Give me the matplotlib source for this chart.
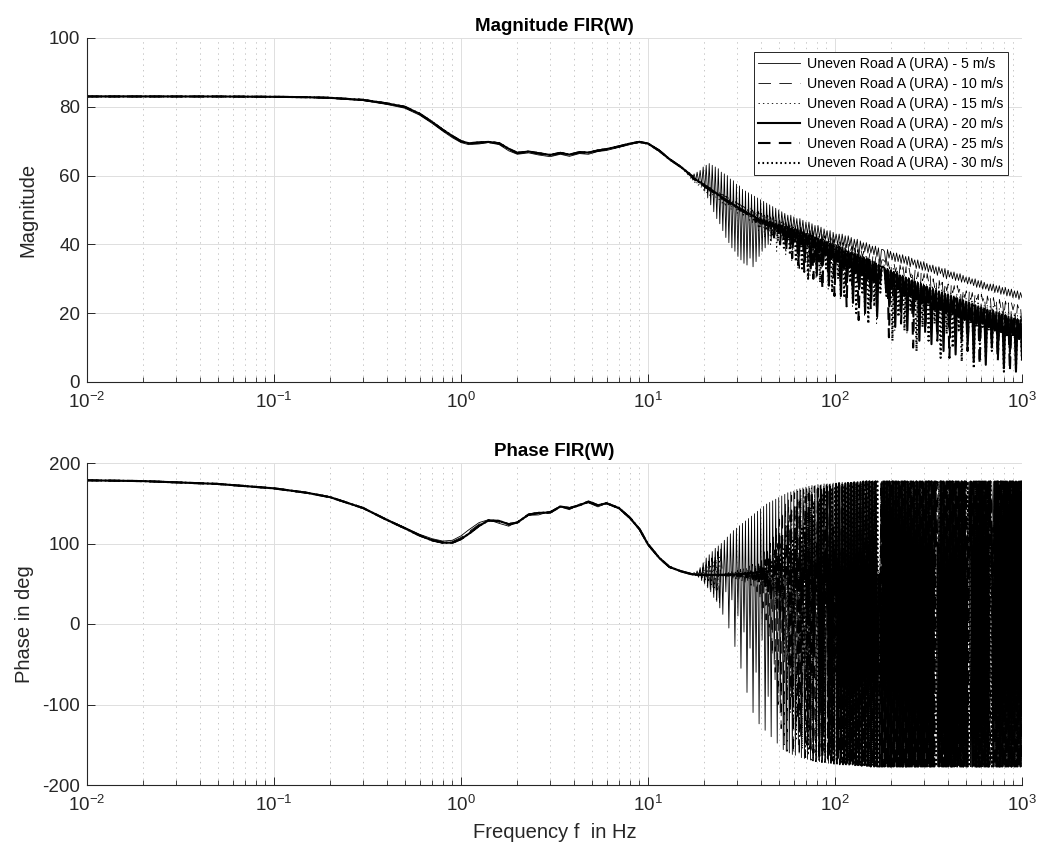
import numpy as np
import matplotlib
matplotlib.use("Agg")
import matplotlib.pyplot as plt
from matplotlib.ticker import LogLocator, NullFormatter, FixedLocator
from matplotlib.lines import Line2D

plt.rcParams['font.family'] = ['Liberation Sans', 'DejaVu Sans']
plt.rcParams['mathtext.fontset'] = 'custom'
plt.rcParams['mathtext.rm'] = 'Liberation Sans'
plt.rcParams['mathtext.it'] = 'Liberation Sans:italic'
plt.rcParams['mathtext.bf'] = 'Liberation Sans:bold'
plt.rcParams['lines.scale_dashes'] = False
plt.rcParams['axes.unicode_minus'] = False

# ---------------------------------------------------------------- data
speeds = [5, 10, 15, 20, 25, 30]
labels = [f"Uneven Road A (URA) - {v} m/s" for v in speeds]

# smooth low-frequency part, Hz
f_lo = [0.01, 0.02, 0.05, 0.1, 0.15, 0.2, 0.3, 0.4, 0.5, 0.6, 0.7, 0.8,
        0.9, 1.0, 1.1, 1.25, 1.4, 1.6, 1.8, 2.0, 2.3, 2.6, 3.0, 3.4,
        3.8, 4.3, 4.8, 5.4, 6.0, 7.0, 8.0, 9.0, 10, 11.5, 13, 15]

# first frequency of the log-spaced high-frequency block of each speed, Hz
hf_start = [17.0, 17.25, 16.85, 17.1, 16.95, 17.2]
hf_end = 1000.0

mag_lo_5 = [83.1, 83.1, 83.0, 82.9, 82.7, 82.5, 81.8, 80.7, 79.6, 77.6, 75.2, 72.9,
            71.0, 69.6, 69.0, 69.2, 69.6, 69.0, 67.2, 66.2, 66.6, 66.0, 65.5, 66.2,
            65.6, 66.4, 66.2, 67.0, 67.3, 68.2, 69.0, 69.7, 69.5, 67.5, 65.0, 62.5]
mag_lo_10 = [83.0, 83.0, 83.0, 82.9, 82.8, 82.6, 81.9, 80.9, 79.8, 77.8, 75.4, 73.1,
             71.3, 69.8, 69.2, 69.5, 69.8, 69.2, 67.5, 66.4, 66.8, 66.3, 65.8, 66.4,
             65.9, 66.6, 66.5, 67.1, 67.5, 68.3, 69.2, 69.8, 69.4, 67.4, 64.9, 62.6]
mag_lo_fast = [83.0, 83.0, 83.0, 82.9, 82.8, 82.6, 82.0, 81.0, 80.0, 78.0, 75.6, 73.3,
               71.5, 70.0, 69.4, 69.6, 69.8, 69.4, 67.8, 66.6, 67.0, 66.5, 66.0, 66.6,
               66.1, 66.8, 66.7, 67.3, 67.7, 68.5, 69.3, 69.8, 69.3, 67.2, 64.8, 62.5]

mag_hf_5 = [
    60, 59, 60.5, 58.5, 61, 58, 61.5, 57, 62.5, 55.5, 63, 53.5, 63.5, 51.5, 63, 49.5, 62.5, 47.5, 62, 46,
    61, 44, 60.5, 42, 60, 40.5, 59, 39, 58.5, 38, 57.5, 36.5, 57, 35.5, 56, 34.5, 55.5, 34, 55, 36,
    54.5, 33.5, 54, 35, 53.5, 36.5, 53, 38, 52.5, 39, 52, 40, 51.5, 41, 51, 42, 50.5, 42.5, 50, 43,
    49.5, 45, 49, 44.5, 48.5, 44, 48.5, 43, 48, 44, 47.5, 42.5, 47.5, 43, 47, 42, 46.5, 43, 46.5, 42,
    46, 42, 45.5, 41.5, 45.5, 42, 45, 40, 44.5, 41.5, 44, 40.5, 44, 37, 43.5, 40.5, 43, 40, 43, 39.5,
    43, 39.5, 42.5, 39, 42.5, 39.5, 42, 38, 41.5, 39, 41.5, 36, 41, 38.5, 40.5, 38, 40.5, 37.5, 40, 37.5,
    39.5, 37, 39.5, 36.5, 39, 34, 38.5, 38.5, 38, 34, 38.5, 36, 38, 35.5, 37.5, 35, 37.5, 35, 37, 34.5,
    37, 34.5, 36.5, 34, 36.5, 33.5, 36, 34, 35.5, 33, 35.5, 33, 35, 32.5, 35, 32.5, 34.5, 32, 34, 32,
    34, 31.5, 33.5, 31, 33.5, 31.5, 33, 30.5, 33, 30, 32.5, 30.5, 32, 30, 32, 29.5, 31.5, 29.5, 31.5, 29,
    31, 29, 30.5, 28.5, 30.5, 28.5, 30, 28, 30, 27.5, 29.5, 27.5, 29.5, 27, 29, 27, 28.5, 26.5, 28.5, 26.5,
    28.5, 26, 28, 26, 28, 25.5, 27.5, 25.5, 27.5, 25, 27, 25, 27, 24.5, 26.5, 24.5, 26.5, 24, 26, 24.5]
mag_hf_10 = [
    59.5, 59, 59, 58.5, 58.5, 58, 58, 57.5, 57.5, 57, 57, 56.5, 56.5, 56, 56, 55.5, 55.5, 55, 55, 54.5,
    54.5, 54, 54, 53.5, 53.5, 53, 53, 52.5, 52.5, 52, 52, 51.5, 51.5, 51, 51, 50.5, 50.5, 50, 50, 49.5,
    50, 48, 49.5, 47, 49.5, 46, 49, 47.5, 48.5, 44, 48.5, 46.5, 48, 45, 48, 43, 47.5, 46, 47, 44.5,
    47, 42, 46.5, 44, 46.5, 38, 46, 43.5, 45.5, 41, 45.5, 33, 45, 42, 44.5, 40, 44.5, 30, 44, 41.5,
    44, 39, 43.5, 41, 43, 35, 43, 40.5, 42.5, 37, 42, 28, 42, 39.5, 41.5, 36, 41, 39, 41, 26,
    40.5, 37, 40, 34, 40, 38, 39.5, 24, 39, 36, 38.5, 33, 38.5, 36.5, 38, 28, 37.5, 35, 37.5, 31,
    37, 34, 36.5, 18, 36, 33.5, 35.5, 35.5, 35, 30, 35, 33, 34.5, 25, 34.5, 32, 34, 29, 34, 31.5,
    33.5, 30, 33.5, 22, 33, 30.5, 32.5, 27, 32.5, 30, 32, 19, 32, 29.5, 31.5, 26, 31.5, 29, 31, 24,
    30, 27.5, 29.5, 19, 29.5, 27, 29, 24, 29, 26.5, 28.5, 16, 28.5, 26, 28, 23, 28, 26, 27.5, 21,
    27, 24.5, 26.5, 17, 26.5, 24, 26, 22, 26, 24, 25.5, 14, 25.5, 23.5, 25, 20, 25, 23, 24.5, 18,
    24.5, 22, 24, 14, 24, 21.5, 23.5, 19, 23.5, 21.5, 23, 11, 23, 21, 22.5, 17, 22.5, 21, 22, 16]
mag_hf_15 = [
    59.5, 58.5, 59, 58, 58.5, 57, 58, 56.5, 57.5, 55.5, 57, 55, 56.5, 54, 56, 54, 55.5, 53.5, 55, 53,
    55, 52, 54.5, 51, 54, 51.5, 53.5, 50, 53, 50.5, 52.5, 49, 52, 49.5, 51.5, 48, 51, 48.5, 50.5, 47,
    50.5, 46, 50, 47, 49.5, 44, 49, 46, 48.5, 42, 48, 45, 47.5, 40, 47.5, 44, 47, 38, 46.5, 43,
    46.5, 41, 46, 37, 45.5, 42, 45.5, 35, 45, 41, 44.5, 33, 44.5, 40, 44, 36, 43.5, 39, 43.5, 31,
    43, 38, 42.5, 30, 42, 37, 42, 33, 41.5, 36, 41, 27, 41, 35, 40.5, 31, 40, 35, 40, 24,
    39.5, 33, 39, 28, 38.5, 33, 38.5, 22, 38, 32, 37.5, 27, 37, 31, 37, 19, 36.5, 30, 36, 25,
    35.5, 29, 35, 17, 34.5, 30.5, 34, 34, 34, 27, 33.5, 23, 33, 28, 33, 15, 32.5, 27, 32, 21,
    31.5, 26, 31, 14, 30.5, 25, 30.5, 20, 30, 25, 29.5, 12, 29.5, 24, 29, 18, 28.5, 23, 28.5, 13,
    28, 22, 27.5, 16, 27.5, 22, 27, 10, 26.5, 21, 26.5, 15, 26, 21, 25.5, 9, 25.5, 20, 25, 13,
    25, 19, 24.5, 12, 24, 19, 24, 8, 23.5, 18, 23.5, 13, 23, 18, 22.5, 7, 22.5, 17, 22, 11,
    22, 16, 21.5, 9, 21.5, 16, 21, 6, 20.5, 15, 20.5, 10, 20, 15, 20, 4, 19.5, 14, 19.5, 8]
mag_hf_20 = [
    60, 59.5, 59, 58.8, 58.5, 58.2, 58, 57.7, 57.4, 57.1, 56.8, 56.5, 56.2, 55.9, 55.6, 55.3, 55, 54.7, 54.4, 54.1,
    53.8, 53.5, 53.2, 53, 52.7, 52.4, 52.1, 51.8, 51.5, 51.3, 51, 50.7, 50.5, 50.2, 50, 49.7, 49.5, 49.2, 49, 48.7,
    48.5, 48.2, 48, 47.7, 47.5, 47.2, 47.2, 46.5, 47, 46, 46.8, 45.5, 46.6, 45, 46.3, 44.5, 46, 44, 45.7, 43,
    45.5, 42, 45.2, 41, 45, 43, 44.7, 39, 44.4, 42, 44, 37, 43.7, 41, 43.4, 35, 43, 40, 42.7, 33,
    42.5, 39, 42, 31, 41.7, 38, 41.4, 34, 41, 37, 40.6, 28, 40.3, 36, 40, 31, 39.6, 35, 39.3, 25,
    39, 33, 38.5, 29, 38, 34, 37.7, 23, 37.3, 32, 37, 27, 36.5, 31, 36.2, 20, 35.8, 30, 35.5, 24,
    35, 29, 34.5, 19, 34, 30, 33.5, 33.5, 33, 26, 32.7, 22, 32.3, 28, 32, 16, 31.5, 27, 31, 20,
    30.7, 25, 30.3, 15, 30, 25, 29.5, 19, 29.2, 24, 28.8, 12, 28.5, 24, 28, 17, 27.7, 23, 27.3, 11,
    27, 21, 26.6, 14, 26.3, 21, 26, 9, 25.6, 20, 25.3, 15, 25, 20, 24.6, 8, 24.3, 19, 24, 12,
    23.7, 18, 23.3, 11, 23, 18, 22.7, 6, 22.3, 17, 22, 12, 21.7, 17, 21.3, 5, 21, 16, 20.7, 10,
    20.5, 15, 20.2, 8, 20, 15, 19.7, 4, 19.4, 14, 19, 9, 18.8, 14, 18.5, 3, 18.2, 13, 18, 7]
mag_hf_25 = [
    60, 59.5, 59, 58.7, 58.4, 58.1, 57.8, 57.5, 57.2, 56.9, 56.6, 56.3, 56, 55.7, 55.4, 55.1, 54.8, 54.5, 54.2, 53.9,
    53.6, 53.3, 53, 52.7, 52.4, 52.1, 51.8, 51.5, 51.3, 51, 50.7, 50.4, 50.2, 49.9, 49.7, 49.4, 49.2, 48.9, 48.7, 48.4,
    48.2, 47.8, 47.8, 46.5, 47.4, 47, 47.2, 45, 47, 46.5, 46.6, 43.5, 46.4, 45.5, 46, 42, 45.8, 45, 45.5, 40,
    45.3, 43, 45, 38, 44.7, 42, 44.4, 36, 44, 41, 43.7, 34, 43.4, 40, 43, 32, 42.7, 39, 42.4, 37,
    42, 30, 41.7, 38, 41.4, 35, 41, 27, 40.6, 37, 40.3, 32, 40, 36, 39.6, 25, 39.3, 35, 39, 29,
    38.6, 34, 38.2, 22, 37.8, 33, 37.4, 28, 37, 32, 36.6, 18, 36.2, 31, 35.8, 25, 35.4, 30, 35, 21,
    34.6, 29, 34.2, 24, 33.8, 28, 33.3, 33.3, 33, 29, 32.5, 13, 32.2, 27, 31.8, 22, 31.4, 27, 31, 17,
    30.6, 26, 30.2, 19, 29.8, 25, 29.4, 10, 29, 24, 28.6, 17, 28.2, 23, 27.8, 14, 27.4, 23, 27, 18,
    26.7, 22, 26.3, 12, 26, 21, 25.6, 17, 25.3, 21, 24.9, 7, 24.6, 20, 24.2, 14, 23.9, 19, 23.5, 16,
    23.3, 19, 22.9, 9, 22.6, 18, 22.2, 14, 21.9, 18, 21.5, 5, 21.2, 17, 20.8, 12, 20.5, 16, 20.2, 13,
    20, 16, 19.7, 6, 19.4, 15, 19, 11, 18.7, 15, 18.4, 3, 18.1, 14, 17.8, 9, 17.5, 13, 17.2, 10]
mag_hf_30 = [
    60, 59.4, 59, 58.6, 58.3, 58, 57.7, 57.4, 57.1, 56.8, 56.5, 56.2, 55.9, 55.6, 55.3, 55, 54.7, 54.4, 54.1, 53.8,
    53.5, 53.2, 52.9, 52.6, 52.3, 52, 51.8, 51.5, 51.2, 50.9, 50.6, 50.4, 50.1, 49.9, 49.6, 49.3, 49.1, 48.8, 48.6, 48.3,
    48.1, 47, 47.7, 46.8, 47.5, 45, 47.2, 46.5, 47, 44, 46.7, 46, 46.4, 42.5, 46.1, 45.5, 45.8, 41, 45.5, 44.5,
    45.2, 39, 45, 43, 44.6, 37, 44.3, 42, 44, 35, 43.6, 41, 43.3, 33, 43, 40, 42.6, 30, 42.3, 39,
    42, 35, 41.6, 38, 41.3, 29, 41, 37, 40.6, 33, 40.3, 36, 39.9, 26, 39.6, 35, 39.2, 30, 38.9, 34,
    38.5, 25, 38.1, 33, 37.7, 29, 37.3, 32, 37, 20, 36.6, 31, 36.2, 26, 35.8, 30, 35.4, 17, 35, 29,
    34.6, 22, 34.2, 28, 33.8, 26, 33.4, 33.4, 33, 25, 32.6, 27, 32.2, 12, 31.8, 26, 31.4, 19, 31, 25,
    30.6, 15, 30.2, 25, 29.8, 21, 29.4, 24, 29, 9, 28.6, 23, 28.2, 16, 27.8, 22, 27.4, 12, 27, 21,
    26.7, 17, 26.3, 21, 26, 7, 25.6, 20, 25.3, 14, 24.9, 19, 24.6, 10, 24.2, 19, 23.9, 15, 23.5, 6,
    23.2, 18, 22.9, 12, 22.5, 17, 22.2, 4, 21.8, 16, 21.5, 11, 21.2, 16, 20.8, 7, 20.5, 15, 20.2, 9,
    19.9, 15, 19.6, 8, 19.3, 14, 19, 3, 18.7, 13, 18.4, 8, 18.1, 13, 17.8, 4, 17.5, 12, 17.2, 6]

ph_lo_5 = [178.5, 177.5, 174, 168.5, 163, 157.5, 144, 130, 120, 111.5, 106, 103,
           104, 109.5, 117, 126, 129.5, 125, 121.5, 127, 135, 135.5, 140, 145.5,
           142, 149, 150.5, 145.5, 150, 143, 131, 117, 98.5, 82.5, 70, 66]
ph_lo_10 = [178.5, 177.5, 174, 168.5, 163, 157.5, 144, 129.8, 119.5, 110.8, 105, 102,
            102.5, 107.5, 114.5, 124, 129, 126.5, 122.5, 126.5, 135.5, 137, 139, 146,
            143, 148, 151, 146.5, 150, 143.5, 131.5, 117.5, 98.5, 82, 70.5, 65.5]
ph_lo_fast = [178.5, 177.5, 174, 168.5, 163, 157.5, 144, 129.5, 119, 110, 104, 101,
              101, 105.5, 112, 122, 128.5, 128, 124, 126, 136, 138, 138.5, 146,
              144, 147.5, 152, 147.5, 150, 144, 132, 118, 99, 82, 71, 65.5]

ph_hf_5 = [
    63, 61, 64, 60, 66, 58, 70, 54, 76, 50, 82, 45, 86, 40, 90, 33, 94, 28, 97, 20,
    100, 12, 104, 40, 108, -5, 112, 30, 116, -28, 119, 10, 122, -55, 125, -10, 128, -85, 131, -30,
    134, -110, 137, -60, 140, -124, 143, -20, 146, -132, 149, -90, 151, -140, 153, -50, 155, -148, 157, -110,
    159, -156, 161, -158, 163, -160, 164, -162, 165, -163, 167, -150, 168, -166, 169, -167, 170, -168, 171, -169,
    172, -170, 172, -171, 173, -171, 173, -172, 174, -172, 174, -173, 174, -173, 175, -174, 175, -174, 175, -174,
    176, -175, 176, -175, 176, -175, 176, -175, 176, -176, 176, -176, 177, -176, 177, -176, 177, -176, 177, -176,
    177, -177, 177, 60, 62, 58, 177, -177, 177, -177, 177, -177, 177, -177, 177, -177, 177, -177, 177, -177,
    177, -177, 160, -177, 177, -140, 177, -177, 120, -177, 177, -177, 177, -160, 177, -177, 150, -177, 177, -177,
    177, 100, 95, -177, 177, -177, 177, -150, 177, -177, 140, -177, 177, -177, 177, -177, 177, -130, 177, -177,
    177, -177, 110, 104, 177, -177, 177, -177, 160, -177, 177, -177, 177, -177, 177, -177, 177, -177, 122, 118,
    177, -177, 177, -177, 177, -177, 177, -177, 177, -177, 177, -177, 177, -177, 177, -177, 177, -177, 177, -177]
ph_hf_10 = [
    62, 63, 61, 64, 59, 67, 56, 70, 52, 74, 47, 78, 42, 82, 36, 86, 30, 90, 24, 94,
    62, 60, 63, 59, 64, 58, 65, 57, 66, 56, 67, 55, 68, 54, 69, 52, 70, 50, 72, 48,
    74, 45, 76, 40, 80, 30, 84, 20, 90, 5, 95, -15, 100, -40, 110, -70, 120, -100, 130, -130,
    140, -150, 150, -158, 155, -110, 160, -162, 163, -130, 165, -165, 166, -90, 167, -166, 168, -140, 169, -168,
    -170, 171, -171, 171, -171, 172, -172, 172, -172, 173, -173, 173, -173, 174, -174, 174, -174, 175, -175, 175,
    -175, 176, -175, 176, -176, 176, -176, 176, -176, 176, -176, 177, -176, 177, -176, 177, -177, 177, -177, 177,
    -177, 177, -177, 62, 60, 58, -177, 177, -177, 177, -177, 177, -177, 177, -177, 177, -177, 177, -177, 177,
    -177, 177, -177, 140, -177, 177, -160, 177, -177, 177, -177, 177, -177, 177, -150, 177, -177, 177, -177, 177,
    -177, 98, 96, 177, -177, 177, -177, 177, -177, 160, -177, 177, -177, 177, -177, 177, -177, 177, -177, 177,
    -177, 177, -177, 106, 102, 177, -177, 177, -177, 177, -177, 177, -140, 177, -177, 177, -177, 177, -177, 120,
    116, 177, -177, 177, -177, 177, -177, 177, -177, 177, -177, 177, -177, 177, -177, 177, -177, 177, -177, 177]
ph_hf_15 = [
    62, 62.5, 61.5, 63, 61, 63.5, 60, 65, 58, 68, 55, 71, 52, 74, 49, 77, 45, 80, 41, 83,
    62, 61.5, 62.5, 61, 63, 60.5, 63.5, 60, 64, 59.5, 64.5, 59, 65, 58.5, 65.5, 58, 66, 57, 67, 56,
    68, 55, 62, 70, 52, 60, 73, 48, 62, 77, 42, 62, 82, 35, 60, 88, 25, 62, 95, 10,
    30, 110, -40, 120, -80, 130, -110, 140, -130, 148, -145, 155, -150, 160, -155, 163, -160, 165, -163, 167,
    169, -167, 170, -168, 171, -169, 171, -170, 172, -171, 172, -171, 173, -172, 173, -172, 174, -173, 174, -173,
    175, -174, 175, -174, 175, -175, 176, -175, 176, -175, 176, -176, 176, -176, 177, -176, 177, -176, 177, -177,
    177, -177, 177, -177, 64, 61, 177, -177, 177, -177, 177, -177, 177, -177, 177, -177, 177, -177, 177, -177,
    177, -177, 177, -177, 177, -177, 150, -177, 177, -177, 177, -177, 177, -177, 177, -120, 177, -177, 177, -177,
    177, -177, 100, 97, 177, -177, 177, -177, 177, -177, 177, -177, 130, -177, 177, -177, 177, -177, 177, -177,
    177, -177, 177, 108, 105, -177, 177, -177, 177, -177, 177, -177, 177, -177, 177, -177, 177, -177, 177, -177,
    124, 119, 177, -177, 177, -177, 177, -177, 177, -177, 177, -177, 177, -177, 177, -177, 177, -177, 177, -177]
ph_hf_20 = [
    62, 61.5, 61.5, 61.2, 61, 61, 61, 61, 61, 61, 61, 61, 61, 61, 61, 61, 61, 61, 61, 61,
    61, 61, 61, 61, 61, 61.2, 61.2, 61.4, 61.5, 61.6, 61.8, 62, 62, 62.2, 62.4, 62.5, 62.6, 62.8, 63, 63.2,
    63.4, 63.5, 63.8, 64, 64.2, 64.4, 64.6, 64.8, 65, 65.2, 65.5, 65.8, 66, 66.2, 66.5, 66.8, 67, 67.2, 67.5, 67.8,
    68, 66, 70, 62, 74, 56, 67, 65, 82, 45, 68, 66, 95, 25, 70, 64, 110, 0, 72, 60,
    130, -40, 74, 58, 150, -110, 160, -140, 76, 56, 165, -155, 168, -160, 90, 40, 171, -166, 172, -168,
    173, -170, 174, -171, 174, -172, 175, -173, 175, -174, 176, -174, 176, -175, 176, -175, 177, -176, 177, -176,
    177, -177, 177, -177, 60, 62, -177, 177, -177, 177, -177, 177, -177, 177, -177, 177, -177, 177, -177, 177,
    -177, 177, -177, 177, -177, 177, -177, 177, -177, 177, -177, 177, -177, 177, -177, 177, -177, 177, -177, 177,
    -177, 177, 99, 97, -177, 177, -177, 177, -177, 177, -177, 177, -177, 177, -177, 177, -177, 177, -177, 177,
    -177, 177, -177, 107, 104, 177, -177, 177, -177, 177, -177, 177, -177, 177, -177, 177, -177, 177, 121, 118,
    -177, 177, -177, 177, -177, 177, -177, 177, -177, 177, -177, 177, -177, 177, -177, 177, -177, 177, -177, 177]
ph_hf_25 = [
    62, 62, 61.5, 61.5, 61, 61, 61, 61, 61, 61, 61, 61, 61, 60.8, 61, 60.8, 61, 60.6, 61, 60.5,
    61, 60.5, 61.2, 60.3, 61.5, 60, 61.8, 59.8, 62, 59.5, 62.3, 59.3, 62.6, 59, 63, 58.5, 63.5, 58, 64, 57.5,
    65, 56, 66, 55, 68, 53, 71, 50, 75, 45, 80, 38, 86, 30, 60, 62, 92, 20, 100, 5,
    110, -20, 62, 64, 122, -50, 135, -90, 66, 60, 145, -120, 152, -140, 70, 55, 158, -150, 162, -155,
    165, -160, 80, 40, 168, -164, 170, -166, 171, 20, 172, -168, 173, -170, 120, -60, 174, -171, 175, -172,
    174, -173, 174, -173, 175, -174, 175, -174, 176, -175, 176, -175, 176, -176, 177, -176, 177, -176, 177, -177,
    177, -177, 177, 63, 59, -177, 177, -177, 177, -177, 177, -177, 177, -177, 177, -177, 177, -177, 177, -177,
    177, -177, 177, -177, 177, -177, 177, -177, 177, -177, 177, -177, 177, -177, 177, -177, 177, -177, 177, -177,
    177, -177, 177, 98, 95, -177, 177, -177, 177, -177, 177, -177, 177, -177, 177, -177, 177, -177, 177, -177,
    177, -177, 177, -177, 106, 103, 177, -177, 177, -177, 177, -177, 177, -177, 177, -177, 177, -177, 177, 119,
    117, -177, 177, -177, 177, -177, 177, -177, 177, -177, 177, -177, 177, -177, 177, -177, 177, -177, 177, -177]
ph_hf_30 = [
    62, 61.8, 61.6, 61.4, 61.2, 61, 61, 61, 61, 61, 61, 61, 60.8, 61, 60.8, 61.2, 60.6, 61.4, 60.4, 61.6,
    61, 61.2, 60.8, 61.4, 60.6, 61.6, 60.4, 61.8, 60.2, 62, 60, 62.3, 59.7, 62.6, 59.4, 63, 59, 63.5, 58.5, 64,
    58, 64.5, 57, 65.5, 56, 67, 54, 69, 52, 71, 50, 74, 47, 77, 44, 80, 40, 84, 35, 88,
    28, 93, 62, 62, 20, 99, 10, 106, -5, 113, 64, 60, -25, 121, -50, 130, -75, 138, -100, 145,
    -120, 150, 66, 58, -140, 156, -150, 160, -158, 164, 100, 20, -163, 167, -166, 169, -168, 170, 68, 56,
    -166, 170, -168, 171, -170, 172, -171, 173, -172, 174, -173, 174, -174, 175, -175, 175, -175, 176, -176, 176,
    -176, 177, -177, 177, -177, 61, 58, 177, -177, 177, -177, 177, -177, 177, -177, 177, -177, 177, -177, 177,
    -177, 177, -177, 177, -177, 177, -177, 177, -177, 177, -177, 177, -177, 177, -177, 177, -177, 177, -177, 177,
    -177, 177, -177, 100, 96, 177, -177, 177, -177, 177, -177, 177, -177, 177, -177, 177, -177, 177, -177, 177,
    -177, 177, -177, 177, -177, 105, 101, -177, 177, -177, 177, -177, 177, -177, 177, -177, 177, -177, 177, -177,
    120, 117, -177, 177, -177, 177, -177, 177, -177, 177, -177, 177, -177, 177, -177, 177, -177, 177, -177, 177]

mag_lo = [mag_lo_5, mag_lo_10, mag_lo_fast, mag_lo_fast, mag_lo_fast, mag_lo_fast]
mag_hf = [mag_hf_5, mag_hf_10, mag_hf_15, mag_hf_20, mag_hf_25, mag_hf_30]
ph_lo = [ph_lo_5, ph_lo_10, ph_lo_fast, ph_lo_fast, ph_lo_fast, ph_lo_fast]
ph_hf = [ph_hf_5, ph_hf_10, ph_hf_15, ph_hf_20, ph_hf_25, ph_hf_30]

# ---------------------------------------------------------------- styles
thin, thick = 0.6, 1.5
styles = [
    dict(lw=thin, ls='-'),
    dict(lw=thin, ls=(0, (9, 6))),
    dict(lw=thin, ls=(0, (1, 2.2))),
    dict(lw=thick, ls='-'),
    dict(lw=thick, ls=(0, (9, 6))),
    dict(lw=thick, ls=(0, (1.2, 2.0))),
]
ink = '#262626'


def freq_axis(k, n):
    return np.concatenate([np.asarray(f_lo, float),
                           np.geomspace(hf_start[k], hf_end, n)])


fig = plt.figure(figsize=(10.41, 8.65), dpi=100)
ax1 = fig.add_axes([87 / 1041, 1 - 382 / 865, 935 / 1041, 344 / 865])
ax2 = fig.add_axes([87 / 1041, 1 - 785 / 865, 935 / 1041, 322 / 865])

for k in range(len(speeds)):
    f = freq_axis(k, len(mag_hf[k]))
    ax1.plot(f, list(mag_lo[k]) + list(mag_hf[k]), color='black',
             label=labels[k], **styles[k])
    f = freq_axis(k, len(ph_hf[k]))
    ax2.plot(f, list(ph_lo[k]) + list(ph_hf[k]), color='black', **styles[k])

for ax in (ax1, ax2):
    ax.set_xscale('log')
    ax.set_xlim(1e-2, 1e3)
    ax.xaxis.set_major_locator(LogLocator(base=10, numticks=10))
    ax.xaxis.set_minor_locator(LogLocator(base=10, subs=np.arange(2, 10), numticks=20))
    ax.xaxis.set_minor_formatter(NullFormatter())
    ax.grid(True, which='major', color='#dedede', lw=0.7, ls='-')
    ax.grid(True, which='minor', axis='x', color='#bdbdbd', lw=0.6, ls=(0, (1, 3)))
    ax.set_axisbelow(True)
    for s in ('top', 'right'):
        ax.spines[s].set_visible(False)
    for s in ('left', 'bottom'):
        ax.spines[s].set_color(ink)
        ax.spines[s].set_linewidth(0.8)
    ax.tick_params(which='major', direction='in', length=6, width=0.7,
                   colors=ink, labelsize=13.5, pad=5)
    ax.tick_params(which='minor', direction='in', length=3.5, width=0.6, colors=ink)
    ax.tick_params(axis='x', which='major', pad=7)

ax1.set_ylim(0, 100)
ax1.yaxis.set_major_locator(FixedLocator([0, 20, 40, 60, 80, 100]))
ax2.set_ylim(-200, 200)
ax2.yaxis.set_major_locator(FixedLocator([-200, -100, 0, 100, 200]))

ax1.set_title('Magnitude FIR(W)', fontsize=13.5, fontweight='bold', pad=5, color='black')
ax2.set_title('Phase FIR(W)', fontsize=13.5, fontweight='bold', pad=5, color='black')
ax1.set_ylabel('Magnitude', fontsize=14.5, color=ink, labelpad=8)
ax2.set_ylabel('Phase in deg', fontsize=14.5, color=ink, labelpad=6)
ax2.set_xlabel('Frequency f  in Hz', fontsize=14.5, color=ink, labelpad=6)

handles = [Line2D([], [], color='black', **st) for st in styles]
leg = ax1.legend(handles, labels, loc='upper right', bbox_to_anchor=(0.985, 0.96),
                 fontsize=10.2, frameon=True, fancybox=False, framealpha=1,
                 edgecolor=ink, handlelength=2.9, handletextpad=0.5,
                 labelspacing=0.42, borderpad=0.35, borderaxespad=0)
leg.get_frame().set_linewidth(0.7)

fig.savefig('out.png', dpi=100)
